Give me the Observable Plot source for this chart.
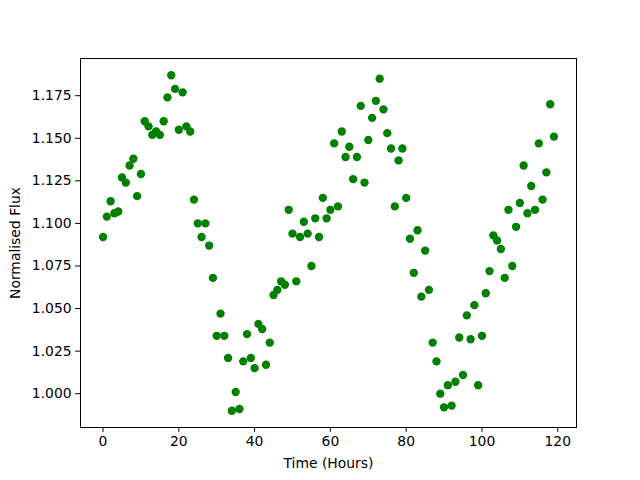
<!DOCTYPE html>
<html>
<head>
<meta charset="utf-8">
<script src="https://cdn.jsdelivr.net/npm/d3@7"></script>
<script src="https://cdn.jsdelivr.net/npm/@observablehq/plot@0.6"></script>
<style>
  html, body { margin: 0; padding: 0; background: #fff; }
  #chart svg { display: block; }
</style>
</head>
<body>
<div id="chart"></div>
<script>
const hours = d3.range(0, 120);
const flux = [
  1.092, 1.104, 1.113, 1.106, 1.107, 1.127, 1.124, 1.134, 1.138, 1.116,
  1.129, 1.160, 1.157, 1.152, 1.154, 1.152, 1.160, 1.174, 1.187, 1.179,
  1.155, 1.177, 1.157, 1.154, 1.114, 1.100, 1.092, 1.100, 1.087, 1.068,
  1.034, 1.047, 1.034, 1.021, 0.990, 1.001, 0.991, 1.019, 1.035, 1.021,
  1.015, 1.041, 1.038, 1.017, 1.030, 1.058, 1.061, 1.066, 1.064, 1.108,
  1.094, 1.066, 1.092, 1.101, 1.094, 1.075, 1.103, 1.092, 1.115, 1.103,
  1.108, 1.147, 1.110, 1.154, 1.139, 1.145, 1.126, 1.139, 1.169, 1.124,
  1.149, 1.162, 1.172, 1.185, 1.167, 1.153, 1.144, 1.110, 1.137, 1.144,
  1.115, 1.091, 1.071, 1.096, 1.057, 1.084, 1.061, 1.030, 1.019, 1.000,
  0.992, 1.005, 0.993, 1.007, 1.033, 1.011, 1.046, 1.032, 1.052, 1.005,
  1.034, 1.059, 1.072, 1.093, 1.090, 1.085, 1.068, 1.108, 1.075, 1.098,
  1.112, 1.134, 1.106, 1.122, 1.108, 1.147, 1.114, 1.130, 1.170, 1.151
];
const xTicks = [0, 20, 40, 60, 80, 100, 120];
const yTicks = [1.000, 1.025, 1.050, 1.075, 1.100, 1.125, 1.150, 1.175];
const xLabel = "Time (Hours)";
const yLabel = "Normalised Flux";

const data = hours.map((h, i) => ({h, f: flux[i]}));

const xmin = d3.min(hours), xmax = d3.max(hours);
const ymin = d3.min(flux), ymax = d3.max(flux);
const xpad = (xmax - xmin) * 0.05, ypad = (ymax - ymin) * 0.05;

const chart = Plot.plot({
  width: 640,
  height: 480,
  marginLeft: 80,
  marginRight: 64,
  marginTop: 58,
  marginBottom: 53,
  style: {fontFamily: "'DejaVu Sans', sans-serif", fontSize: "13.9px", color: "#000", background: "#fff"},
  x: {domain: [xmin - xpad, xmax + xpad]},
  y: {domain: [ymin - ypad, ymax + ypad]},
  marks: [
    Plot.dot(data, {x: "h", y: "f", r: 4.17, fill: "#008000", stroke: null}),
    Plot.frame({stroke: "#000", strokeWidth: 1}),
    Plot.axisX({ticks: xTicks, tickSize: 4.9, tickPadding: 4, fontSize: "13.9px",
      label: xLabel, labelAnchor: "center", labelArrow: "none", labelOffset: 40}),
    Plot.axisY({ticks: yTicks, tickFormat: d3.format(".3f"), tickSize: 4.9, tickPadding: 4, fontSize: "13.9px",
      label: yLabel, labelAnchor: "center", labelArrow: "none", labelOffset: 70})
  ]
});
document.getElementById("chart").appendChild(chart);
</script>
</body>
</html>
